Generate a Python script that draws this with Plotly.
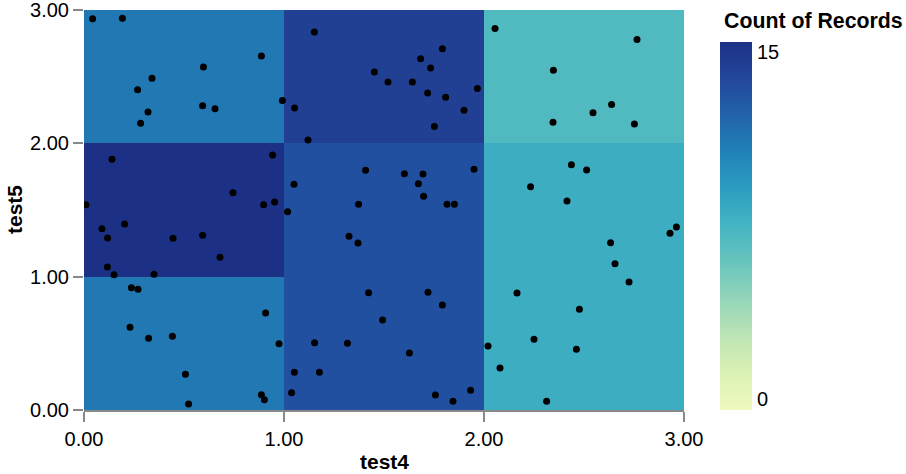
import plotly.graph_objects as go

# test4 / test5 values of the 100 records
test4 = [
    0.043, 0.192, 0.887, 0.597, 0.34, 0.268, 0.992, 0.593, 0.655, 0.32, 0.283,
    1.152, 1.792, 1.683, 1.733, 1.452, 1.52, 1.642, 1.967, 1.718, 1.808, 1.053, 1.9, 1.752, 1.12,
    2.055, 2.765, 2.347, 2.638, 2.545, 2.345, 2.752,
    0.14, 0.943, 0.01, 0.745, 0.898, 0.953, 0.203, 0.09, 0.118, 0.445, 0.593, 0.68, 0.117, 0.15, 0.35,
    1.408, 1.602, 1.695, 1.95, 1.05, 1.672, 1.698, 1.815, 1.852, 1.373, 1.018, 1.325, 1.37,
    2.437, 2.513, 2.233, 2.415, 2.962, 2.93, 2.633, 2.655,
    0.237, 0.27, 0.908, 0.23, 0.323, 0.442, 0.975, 0.507, 0.887, 0.902, 0.523,
    1.423, 1.72, 1.792, 1.493, 1.153, 1.317, 1.627, 1.052, 1.177, 1.038, 1.757, 1.933, 1.845,
    2.725, 2.165, 2.477, 2.25, 2.02, 2.462, 2.08, 2.313,
]
test5 = [
    2.935, 2.938, 2.655, 2.573, 2.488, 2.402, 2.322, 2.282, 2.26, 2.235, 2.15,
    2.835, 2.71, 2.635, 2.565, 2.535, 2.46, 2.46, 2.412, 2.378, 2.345, 2.265, 2.248, 2.127, 2.025,
    2.862, 2.778, 2.548, 2.292, 2.23, 2.158, 2.145,
    1.88, 1.9125, 1.54, 1.63, 1.54, 1.56, 1.395, 1.36, 1.29, 1.288, 1.31, 1.145, 1.0725, 1.015, 1.018,
    1.798, 1.772, 1.77, 1.805, 1.693, 1.697, 1.603, 1.543, 1.543, 1.543, 1.487, 1.303, 1.2525,
    1.84, 1.8, 1.675, 1.5675, 1.3725, 1.325, 1.255, 1.0975,
    0.9175, 0.905, 0.7275, 0.62, 0.5375, 0.5525, 0.4975, 0.268, 0.115, 0.0775, 0.045,
    0.88, 0.8825, 0.7875, 0.675, 0.505, 0.5, 0.4275, 0.2825, 0.2825, 0.13, 0.1125, 0.1475, 0.065,
    0.96, 0.8775, 0.755, 0.53, 0.48, 0.455, 0.315, 0.065,
]
tick_vals = [0, 1, 2, 3]
count_min = 0
count_max = 15
scheme = ['#eff9bd', '#dbf1b4', '#bde5b5', '#94d5b9', '#69c5be', '#45b4c2',
          '#2c9ec0', '#2182b8', '#2163aa', '#23479c', '#1c3185']
colorscale = [[i / (len(scheme) - 1), c] for i, c in enumerate(scheme)]

FONT = "Liberation Sans, Arial, sans-serif"

fig = go.Figure()
fig.add_trace(go.Histogram2d(
    x=test4, y=test5,
    xbins=dict(start=0, end=3, size=1),
    ybins=dict(start=0, end=3, size=1),
    zmin=count_min, zmax=count_max, zauto=False,
    colorscale=colorscale,
    colorbar=dict(
        x=(720 - 84) / 600, xanchor="left", xpad=0,
        y=(410 - 42) / 400, yanchor="top", ypad=0,
        len=368, lenmode="pixels",
        thickness=32, thicknessmode="pixels",
        outlinewidth=0, borderwidth=0,
        showticklabels=False, ticks="",
    ),
    hoverinfo="skip",
))
fig.add_trace(go.Scatter(
    x=test4, y=test5, mode="markers",
    marker=dict(color="black", size=7, line=dict(width=0)),
    hoverinfo="skip", showlegend=False,
))

axis_common = dict(
    range=[0, 3], tickvals=tick_vals, tickformat=".2f",
    ticks="outside", ticklen=10, tickwidth=2, tickcolor="#888",
    tickfont=dict(family=FONT, size=20, color="black"),
    zeroline=False, layer="above traces", ticklabeloverflow="allow",
    automargin=False,
)
fig.update_xaxes(**axis_common, showgrid=False, showline=True,
                 linecolor="#888", linewidth=2)
fig.update_yaxes(**axis_common, showgrid=True,
                 gridcolor="rgba(255,255,255,0.25)", gridwidth=1,
                 showline=False)

annotations = [
    dict(text="<b>Count of Records</b>", x=(722 - 84) / 600, y=(410 - 21) / 400,
         xanchor="left", yanchor="middle", font=dict(size=21.3)),
    dict(text=str(count_max), x=(755 - 84) / 600, y=(410 - 52) / 400,
         xanchor="left", yanchor="middle", font=dict(size=20)),
    dict(text=str(count_min), x=(755 - 84) / 600, y=(410 - 399) / 400,
         xanchor="left", yanchor="middle", font=dict(size=20)),
    dict(text="<b>test4</b>", x=0.5, y=(410 - 461) / 400,
         xanchor="center", yanchor="middle", font=dict(size=21)),
    dict(text="<b>test5</b>", x=(14 - 84) / 600, y=0.5, textangle=-90,
         xanchor="center", yanchor="middle", font=dict(size=21)),
]
for a in annotations:
    a.update(xref="paper", yref="paper", showarrow=False)
    a["font"].update(family=FONT, color="black")

fig.update_layout(
    width=906, height=474,
    margin=dict(l=84, r=222, t=10, b=64, autoexpand=False),
    paper_bgcolor="white", plot_bgcolor="white",
    annotations=annotations,
    showlegend=False,
)
fig.write_html("out.html")
